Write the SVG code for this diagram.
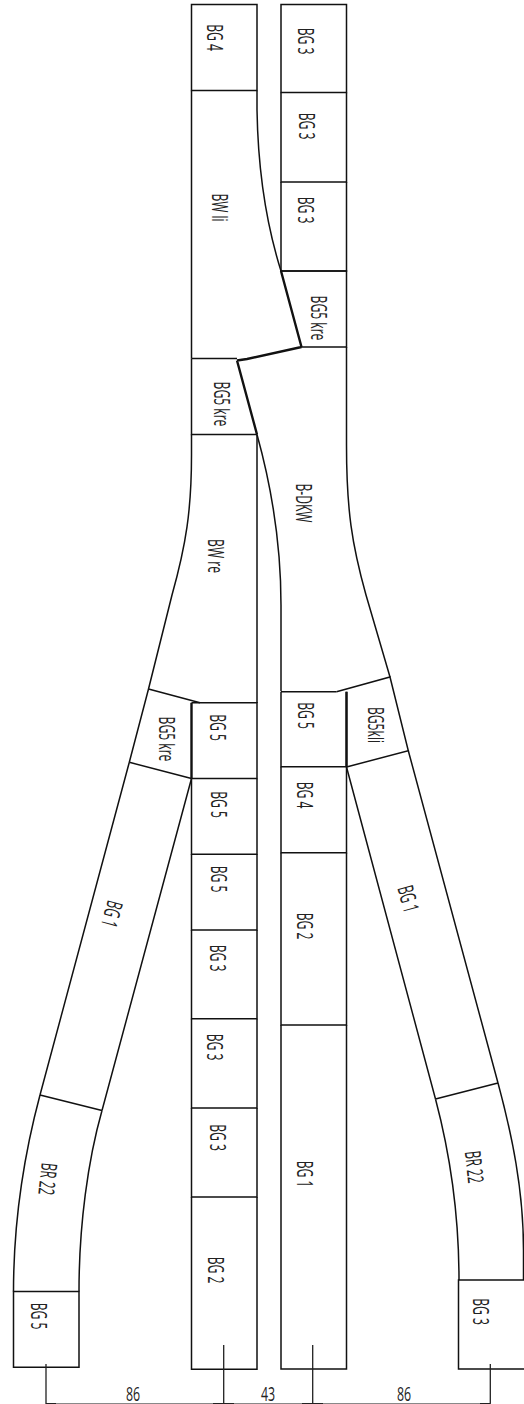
<svg xmlns="http://www.w3.org/2000/svg" width="524" height="1404" viewBox="0 0 524 1404">
<style>
.t{fill:none;stroke:#111;stroke-width:1.5}
.k{fill:none;stroke:#111;stroke-width:2.4}
.d{fill:none;stroke:#222;stroke-width:1.3}
text{font-family:"Open Sans","Liberation Sans",sans-serif;font-size:22px;fill:#222;text-anchor:middle}
</style>
<rect width="524" height="1404" fill="#fff"/>
<g id="bg4-top"><path class="t" d="M191.5 90.5V4.5H257V90.5Z"/><text y="7.5" transform="translate(215,37.5) rotate(90) scale(.55,1)">BG 4</text></g>
<g id="bw-li"><path class="t" d="M191.5 90.5V358.5M257 90.5V110C258 170 265 220 281 271"/><text y="7.5" transform="translate(220,207.5) rotate(90) scale(.55,1)">BW li</text></g>
<g id="bg5-kre-a"><path class="t" d="M191.5 358.5V434.5H257M191.5 358.5H237"/><text y="7.5" transform="translate(222,404) rotate(90) scale(.55,1)">BG5 kre</text></g>
<g id="bw-re"><path class="t" d="M191.5 434.5V455C191.5 510 186 545 172 595L148.5 689M257 434.5V703"/><text y="7.5" transform="translate(216,556) rotate(90) scale(.55,1)">BW re</text></g>
<g id="bg3-a"><path class="t" d="M281 92.5V4.5H346.5V92.5Z"/><text y="7.5" transform="translate(306,41) rotate(90) scale(.55,1)">BG 3</text></g>
<g id="bg3-b"><path class="t" d="M281 92.5V182H346.5V92.5"/><text y="7.5" transform="translate(307,126) rotate(90) scale(.55,1)">BG 3</text></g>
<g id="bg3-c"><path class="t" d="M281 182V271H346.5V182"/><text y="7.5" transform="translate(305.5,210) rotate(90) scale(.55,1)">BG 3</text></g>
<g id="bg5-kre-b"><path class="t" d="M281 271H346.5V347H301"/><text y="7.5" transform="translate(318.5,318) rotate(90) scale(.55,1)">BG5 kre</text></g>
<g id="b-dkw"><path class="t" d="M346.5 347V445C346.5 510 352 545 366 595L390 677M257 434.5C271 485 281 540 281 605V691"/><text y="7.5" transform="translate(304,503) rotate(90) scale(.55,1)">B-DKW</text></g>
<g id="bg5-kre-c"><path class="t" d="M148.5 689L200 702.7M129.3 762.3L191.5 778.5M148.5 689L129.3 762.3"/><text y="7.5" transform="translate(167,739) rotate(90) scale(.55,1)">BG5 kre</text></g>
<g id="bg5-kli"><path class="t" d="M336.5 691.7L390 677L408.3 750.7L346.5 767"/><text y="7.5" transform="translate(376,725) rotate(90) scale(.55,1)">BG5kli</text></g>
<g id="bg5-1"><path class="t" d="M191.5 702.7H257V778.5H191.5"/><text y="7.5" transform="translate(218,727.5) rotate(90) scale(.55,1)">BG 5</text></g>
<g id="bg5-2"><path class="t" d="M191.5 778.5V854.3H257V778.5"/><text y="7.5" transform="translate(218.5,804.5) rotate(90) scale(.55,1)">BG 5</text></g>
<g id="bg5-3"><path class="t" d="M191.5 854.3V930H257V854.3"/><text y="7.5" transform="translate(218.5,879) rotate(90) scale(.55,1)">BG 5</text></g>
<g id="bg3-1"><path class="t" d="M191.5 930V1018.7H257V930"/><text y="7.5" transform="translate(218,958) rotate(90) scale(.55,1)">BG 3</text></g>
<g id="bg3-2"><path class="t" d="M191.5 1018.7V1108H257V1018.7"/><text y="7.5" transform="translate(215,1047) rotate(90) scale(.55,1)">BG 3</text></g>
<g id="bg3-3"><path class="t" d="M191.5 1108V1197H257V1108"/><text y="7.5" transform="translate(218,1137.5) rotate(90) scale(.55,1)">BG 3</text></g>
<g id="bg2-a"><path class="t" d="M191.5 1197V1369.3H257V1197"/><text y="7.5" transform="translate(216,1270) rotate(90) scale(.55,1)">BG 2</text></g>
<g id="bg5-r"><path class="t" d="M281 691.7H336.5M346.5 691.7V766.7H281V691.7"/><text y="7.5" transform="translate(305.5,715.5) rotate(90) scale(.55,1)">BG 5</text></g>
<g id="bg4-r"><path class="t" d="M281 766.7V852.7H346.5V766.7"/><text y="7.5" transform="translate(305,795) rotate(90) scale(.55,1)">BG 4</text></g>
<g id="bg2-r"><path class="t" d="M281 852.7V1025H346.5V852.7"/><text y="7.5" transform="translate(305,926) rotate(90) scale(.55,1)">BG 2</text></g>
<g id="bg1-r"><path class="t" d="M281 1025V1369H346.5V1025"/><text y="7.5" transform="translate(305,1174) rotate(90) scale(.55,1)">BG 1</text></g>
<g id="bg1-left"><path class="t" d="M129.3 762.3L40 1095M191.5 778.5L102 1110.5"/><text y="7.5" transform="translate(111.7,914) rotate(105) scale(.55,1)">BG 1</text></g>
<g id="br22-left"><path class="t" d="M40 1095L102 1110.5M40 1095C24 1155 13.5 1225 13.5 1291.5M102 1110.5C88 1160 79 1225 79 1291.5"/><text y="7.5" transform="translate(47.5,1179) rotate(96) scale(.55,1)">BR 22</text></g>
<g id="bg5-left"><path class="t" d="M13.5 1291.5H79V1367.3H13.5Z"/><text y="7.5" transform="translate(38.5,1316) rotate(90) scale(.55,1)">BG 5</text></g>
<g id="bg1-right"><path class="t" d="M346.5 767L435.5 1099M408.3 750.7L498 1083"/><text y="7.5" transform="translate(408,899) rotate(75) scale(.55,1)">BG 1</text></g>
<g id="br22-right"><path class="t" d="M435.5 1099L498 1083M435.5 1099C449 1150 459 1210 459 1280M498 1083C512 1135 523.5 1190 523.5 1250V1280"/><text y="7.5" transform="translate(474,1167) rotate(84) scale(.55,1)">BR 22</text></g>
<g id="bg3-right"><path class="t" d="M524 1369H458.5V1280H524"/><text y="7.5" transform="translate(481,1311.5) rotate(90) scale(.55,1)">BG 3</text></g>
<g id="connectors">
<path class="k" d="M281 271L301.5 347M237 360.5L257 434.5M237 360.5L247 359L301.5 347"/>
<path class="k" d="M191.5 702.7V778.5M346.5 691.7V767"/>
<path class="d" d="M46 1364V1404M223.7 1345V1404M312.7 1345V1404M490.3 1364V1404"/>
<path d="M46 1403.5H490.3" fill="none" stroke="#888" stroke-width="1"/>
<path d="M46 1403.5H56M213 1403.5H234M302 1403.5H323M480 1403.5H490.3" fill="none" stroke="#222" stroke-width="1"/>
</g>
<g id="dimensions">
<text transform="translate(133,1400.5) scale(.62,1)" style="font-size:20px">86</text>
<text transform="translate(268,1400.5) scale(.62,1)" style="font-size:20px">43</text>
<text transform="translate(404,1400.5) scale(.62,1)" style="font-size:20px">86</text>
</g>
</svg>
